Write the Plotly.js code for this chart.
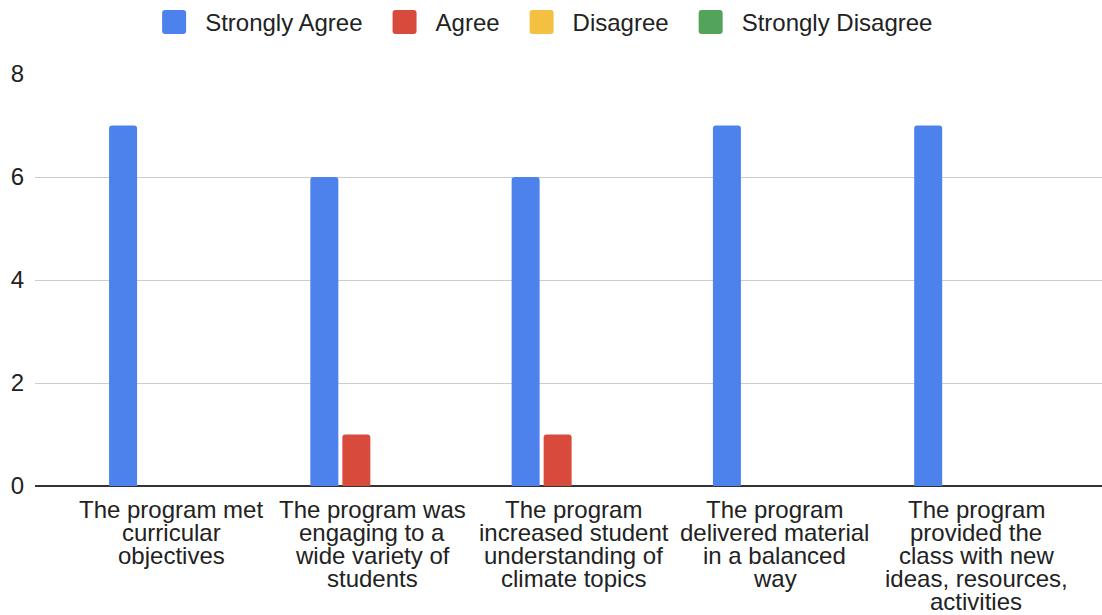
<!DOCTYPE html>
<html>
<head>
<meta charset="utf-8">
<script src="https://cdn.plot.ly/plotly-3.0.1.min.js"></script>
<style>html,body{margin:0;padding:0;background:#fff;}#chart{width:1102px;height:615px;}</style>
</head>
<body>
<div id="chart"></div>
<script>
const categories = [
  "The program met<br>curricular<br>objectives",
  "The program was<br>engaging to a<br>wide variety of<br>students",
  "The program<br>increased student<br>understanding of<br>climate topics",
  "The program<br>delivered material<br>in a balanced<br>way",
  "The program<br>provided the<br>class with new<br>ideas, resources,<br>activities"
];
const seriesNames = ["Strongly Agree", "Agree", "Disagree", "Strongly Disagree"];
const stronglyAgree = [7, 6, 6, 7, 7];
const agree = [0, 1, 1, 0, 0];
const disagree = [0, 0, 0, 0, 0];
const stronglyDisagree = [0, 0, 0, 0, 0];
const yTicks = [0, 2, 4, 6, 8];

const colors = ["#4d82ec", "#d84b3c", "#f4c042", "#54a35a"];
const values = [stronglyAgree, agree, disagree, stronglyDisagree];
const FONT = "Liberation Sans, Arial, sans-serif";

const traces = seriesNames.map((name, i) => ({
  type: "bar",
  name: name,
  x: categories,
  y: values[i],
  marker: { color: colors[i], line: { width: 0 }, cornerradius: 3 },
  hoverinfo: "skip"
}));

const annotations = [];
categories.forEach(cat => {
  cat.split("<br>").forEach((line, j) => {
    annotations.push({
      xref: "x", yref: "paper", x: cat, y: 0,
      text: line, showarrow: false,
      xanchor: "center", yanchor: "middle",
      yshift: -23 - 23 * j,
      font: { family: FONT, size: 24, color: "#222" }
    });
  });
});

const layout = {
  width: 1102, height: 615,
  margin: { l: 35, r: 0, t: 73, b: 129 },
  paper_bgcolor: "#fff", plot_bgcolor: "#fff",
  font: { family: FONT, size: 24, color: "#222" },
  barmode: "group",
  bargap: 0.364,
  bargroupgap: 0.125,
  showlegend: true,
  legend: {
    orientation: "h", x: 0.4795, xanchor: "center", y: 1.125, yanchor: "middle",
    font: { family: FONT, size: 24, color: "#222" },
    traceorder: "normal",
    itemwidth: 40
  },
  xaxis: {
    type: "category",
    range: [-0.676, 4.625],
    showticklabels: false,
    showgrid: false,
    zeroline: false,
    ticks: "",
    fixedrange: true
  },
  yaxis: {
    range: [0, 8],
    tickvals: yTicks,
    ticktext: yTicks.map(String),
    showgrid: true, gridcolor: "#cccccc", gridwidth: 1,
    zeroline: true, zerolinecolor: "#333333", zerolinewidth: 2,
    ticks: "", ticklabelstandoff: 10,
    tickfont: { family: FONT, size: 24, color: "#222" },
    showline: false
  },
  annotations: annotations
};

Plotly.newPlot("chart", traces, layout, { staticPlot: true, displayModeBar: false }).then(gd => {
  // let the widened legend draw outside its original clip box
  gd.querySelectorAll(".legend .scrollbox, .legend").forEach(el => el.removeAttribute("clip-path"));
  // enlarge legend swatches to rounded squares like the reference
  gd.querySelectorAll(".legend .legendpoints path").forEach(p => {
    p.setAttribute("d", "M-15,-12H3Q6,-12 6,-9V9Q6,12 3,12H-15Q-18,12 -18,9V-9Q-18,-12 -15,-12Z");
  });
  // widen spacing between legend entries
  const items = gd.querySelectorAll(".legend .traces");
  const extra = 18;
  const shift = -extra * (items.length - 1) / 2;
  items.forEach((g, i) => {
    const t = g.getAttribute("transform") || "";
    const m = t.match(/translate\(\s*([-\d.]+)[ ,]+([-\d.]+)\s*\)/);
    if (m) {
      const x = parseFloat(m[1]) + i * extra + shift;
      g.setAttribute("transform", "translate(" + x + "," + m[2] + ")");
    }
  });
});
</script>
</body>
</html>
